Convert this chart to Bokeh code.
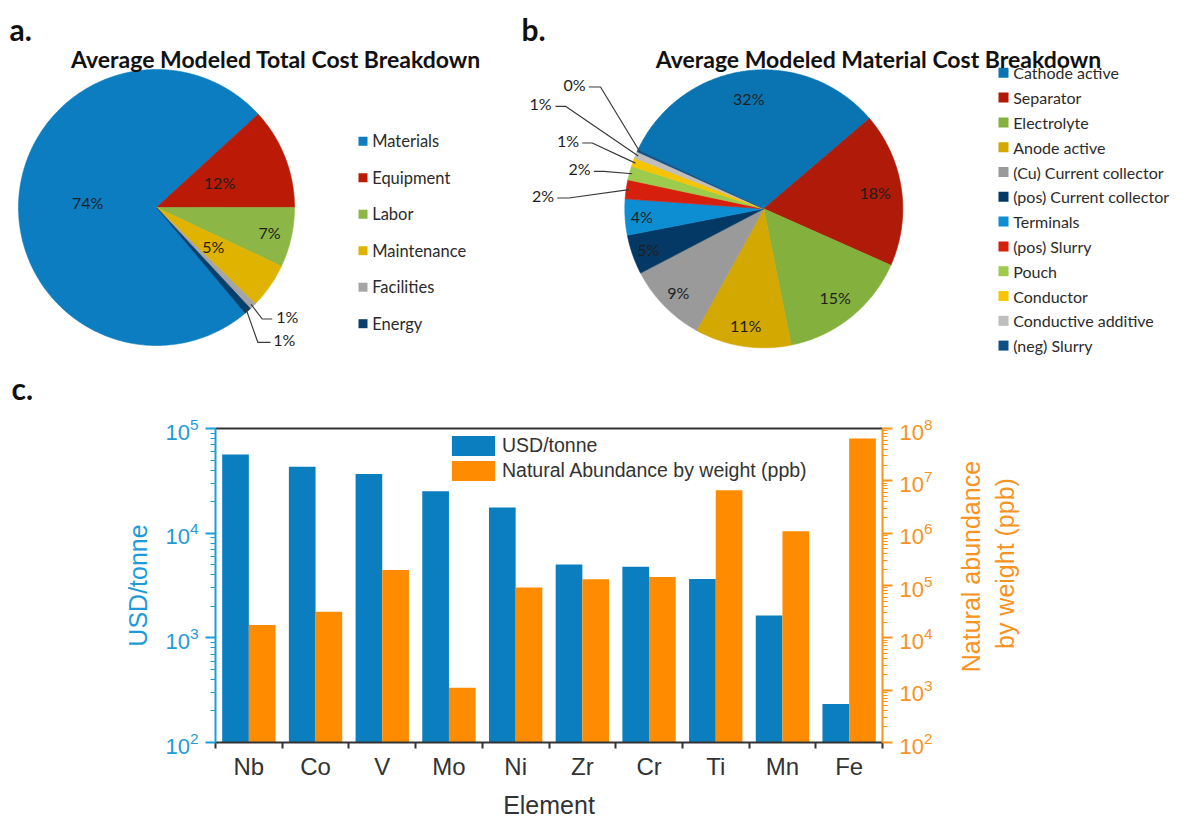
import numpy as np
from bokeh.plotting import figure
from bokeh.models import (Range1d, LogAxis, LinearAxis, FixedTicker, LogTickFormatter,
                          Legend, LegendItem, LogScale)
from bokeh.layouts import column, row
from bokeh.embed import file_html
from bokeh.resources import INLINE
from bokeh.core.properties import value

# ---------------- data ----------------
total_title = "Average Modeled Total Cost Breakdown"
total_categories = ["Materials", "Equipment", "Labor", "Maintenance", "Facilities", "Energy"]
total_shares = [74.3, 11.8, 7.0, 5.3, 0.8, 0.8]
total_colors = ["#0B7DC0", "#BA1A06", "#8CB646", "#DFB300", "#A5A5A5", "#0A3F6B"]

material_title = "Average Modeled Material Cost Breakdown"
material_categories = ["Cathode active", "Separator", "Electrolyte", "Anode active",
                       "(Cu) Current collector", "(pos) Current collector", "Terminals",
                       "(pos) Slurry", "Pouch", "Conductor", "Conductive additive", "(neg) Slurry"]
material_shares = [31.8, 17.9, 15.2, 11.2, 9.3, 4.6, 4.2, 2.2, 1.6, 1.0, 0.8, 0.2]
material_colors = ["#0A74B2", "#AF1A09", "#84B03E", "#D3A800", "#9A9A9A", "#043966",
                   "#0D8ED2", "#D6200D", "#9CCB4E", "#F7C400", "#BEBEBE", "#0E4F86"]

elements = ["Nb", "Co", "V", "Mo", "Ni", "Zr", "Cr", "Ti", "Mn", "Fe"]
usd_per_tonne = [56500, 43100, 36700, 25200, 17600, 5030, 4780, 3640, 1630, 233]
abundance_ppb = [17500, 31500, 197000, 1110, 92000, 132000, 145000, 6630000, 1090000, 64400000]

usd_ticks = [1e2, 1e3, 1e4, 1e5]
abund_ticks = [1e2, 1e3, 1e4, 1e5, 1e6, 1e7, 1e8]
right_axis_title = ["Natural abundance", "by weight (ppb)"]

# ---------------- style / layout ----------------
PIE_FONT = "Lato"
BAR_FONT = "Liberation Sans"
DARK = "#1E1E1E"
BAR_BLUE = "#0B7EBF"
BAR_ORANGE = "#FF8C00"
AX_BLUE = "#1E9BD7"
AX_ORANGE = "#F7931E"
PAGE_H = 821
TOP_H = 406
BOT_H = PAGE_H - TOP_H
W_A = 500
W_B = 690
W_TOTAL = W_A + W_B
FRAME_LEFT = 215
FRAME_W = 667
FRAME_TOP = 428 - TOP_H
FRAME_H = 314
W_C = FRAME_LEFT + FRAME_W + 70


def pie_geometry(shares, start_deg, cx, cy, r):
    total = float(sum(shares))
    xs, ys, mids = [], [], []
    a = start_deg
    for s in shares:
        span = s / total * 360.0
        n = max(4, int(span * 2) + 2)
        th = np.radians(np.linspace(a, a - span, n))
        xs.append(np.concatenate([[cx], cx + r * np.cos(th)]))
        ys.append(np.concatenate([[cy], cy - r * np.sin(th)]))
        mids.append(np.radians(a - span / 2.0))
        a -= span
    return xs, ys, mids


def pct(s):
    return f"{int(round(s))}%"


def blank_fig(width, height, x0, x1, y0, y1):
    f = figure(width=width, height=height, x_range=Range1d(x0, x1), y_range=Range1d(y1, y0),
               x_axis_location=None, y_axis_location=None, toolbar_location=None,
               output_backend="svg", min_border=0, outline_line_color=None)
    f.grid.visible = False
    f.background_fill_color = "white"
    f.border_fill_color = "white"
    return f


def draw_pie(f, shares, colors, start_deg, cx, cy, r, inside_r, outside):
    xs, ys, mids = pie_geometry(shares, start_deg, cx, cy, r)
    f.patches(xs, ys, fill_color=colors, line_color=colors, line_width=0.6)
    lx, ly, lt = [], [], []
    for i, fr in enumerate(inside_r):
        if fr is None:
            continue
        lx.append(cx + fr * r * np.cos(mids[i]))
        ly.append(cy - fr * r * np.sin(mids[i]))
        lt.append(pct(shares[i]))
    f.text(x=lx, y=ly, text=lt, text_font=value(PIE_FONT), text_font_size="16px",
           text_align="center", text_baseline="middle", text_color=DARK)
    mx, my, ox, oy, ot = [], [], [], [], []
    for i, (tx, ty, sx, ex) in outside.items():
        edge_x = cx + 0.98 * r * np.cos(mids[i])
        edge_y = cy - 0.98 * r * np.sin(mids[i])
        mx.append([sx, ex, edge_x])
        my.append([ty + 2.5, ty + 2.5, edge_y])
        ox.append(tx)
        oy.append(ty)
        ot.append(pct(shares[i]))
    f.multi_line(mx, my, line_color="#3A3A3A", line_width=1.2)
    f.text(x=ox, y=oy, text=ot, text_font=value(PIE_FONT), text_font_size="16px",
           text_align="center", text_baseline="middle", text_color=DARK)


def draw_legend(f, cats, colors, x_sq, x_txt, y0, pitch, sq, size):
    ys = [y0 + pitch * i for i in range(len(cats))]
    f.rect(x=[x_sq] * len(cats), y=ys, width=sq, height=sq, fill_color=colors, line_color=None)
    f.text(x=[x_txt] * len(cats), y=ys, text=cats, text_font=value(PIE_FONT),
           text_font_size=size, text_align="left", text_baseline="middle", text_color="#2B2B2B")


# ---------------- panel a ----------------
fa = blank_fig(W_A, TOP_H, 0, W_A, 0, TOP_H)
draw_pie(fa, total_shares, total_colors, 310.0, 156.0, 207.0, 138.0,
         [0.5, 0.49, 0.84, 0.5, None, None],
         {4: (286.7, 316.0, 271.7, 261.7), 5: (283.7, 339.3, 270.0, 257.3)})
draw_legend(fa, total_categories, total_colors, 362.5, 371.7, 140.7, 36.5, 9, "16.5px")
fa.text(x=[275.5], y=[58], text=[total_title], text_font=value(PIE_FONT),
        text_font_style="bold", text_font_size="23px", text_align="center",
        text_baseline="alphabetic", text_color="#111111")
fa.text(x=[9, 11], y=[28, 387], text=["a.", "c."], text_font=value(PIE_FONT),
        text_font_style="bold", text_font_size="30px", text_align="left",
        text_baseline="alphabetic", text_color="#111111")

# ---------------- panel b ----------------
fb = blank_fig(W_B, TOP_H, W_A, W_TOTAL, 0, TOP_H)
draw_pie(fb, material_shares, material_colors, 155.0, 763.3, 208.3, 139.0,
         [0.8, 0.81, 0.82, 0.85, 0.86, 0.88, 0.88, None, None, None, None, None],
         {7: (542.5, 195.0, 556.7, 568.3), 8: (579.0, 168.3, 593.3, 603.3),
          9: (567.5, 140.0, 581.7, 591.7), 10: (540.0, 103.3, 555.0, 565.0),
          11: (574.0, 84.0, 588.3, 600.0)})
draw_legend(fb, material_categories, material_colors, 1003.0, 1012.7, 72.3, 24.8, 10, "16px")
fb.text(x=[878.0], y=[58], text=[material_title], text_font=value(PIE_FONT),
        text_font_style="bold", text_font_size="23px", text_align="center",
        text_baseline="alphabetic", text_color="#111111")
fb.text(x=[521], y=[28], text=["b."], text_font=value(PIE_FONT),
        text_font_style="bold", text_font_size="30px", text_align="left",
        text_baseline="alphabetic", text_color="#111111")

# ---------------- panel c ----------------
fc = figure(width=W_C, height=BOT_H, x_range=Range1d(0, len(elements)),
            y_range=Range1d(usd_ticks[0], usd_ticks[-1]), y_axis_type="log",
            toolbar_location=None, output_backend="svg",
            min_border_left=FRAME_LEFT, min_border_right=W_C - FRAME_LEFT - FRAME_W,
            min_border_top=FRAME_TOP, min_border_bottom=BOT_H - FRAME_TOP - FRAME_H,
            outline_line_color=None)
fc.extra_y_ranges = {"abund": Range1d(abund_ticks[0], abund_ticks[-1])}
fc.extra_y_scales = {"abund": LogScale()}
fc.grid.visible = False
fc.background_fill_color = "white"
fc.border_fill_color = "white"

idx = np.arange(len(elements))
b1 = fc.vbar(x=idx + 0.3, top=usd_per_tonne, bottom=usd_ticks[0], width=0.4,
             fill_color=BAR_BLUE, line_color=None)
b2 = fc.vbar(x=idx + 0.7, top=abundance_ppb, bottom=abund_ticks[0], width=0.4,
             fill_color=BAR_ORANGE, line_color=None, y_range_name="abund")

xa = fc.xaxis[0]
xa.ticker = FixedTicker(ticks=[float(i) + 0.5 for i in idx],
                        minor_ticks=[float(i) for i in range(len(elements) + 1)])
xa.major_label_overrides = {float(i) + 0.5: e for i, e in enumerate(elements)}
xa.axis_line_color = "#333333"
xa.axis_line_width = 2
xa.major_tick_out = 0
xa.major_tick_in = 0
xa.major_tick_line_color = None
xa.minor_tick_out = 6
xa.minor_tick_in = 0
xa.minor_tick_line_color = "#333333"
xa.minor_tick_line_width = 2
xa.major_label_standoff = 4
xa.major_label_text_font = BAR_FONT
xa.major_label_text_font_size = "24px"
xa.major_label_text_color = "#333333"
xa.axis_label = "Element"
xa.axis_label_text_font = BAR_FONT
xa.axis_label_text_font_size = "25px"
xa.axis_label_text_font_style = "normal"
xa.axis_label_text_color = "#333333"
xa.axis_label_standoff = 8


def minor_log(ticks):
    return [m * t for t in ticks[:-1] for m in range(2, 10)]


ya = fc.yaxis[0]
ya.ticker = FixedTicker(ticks=usd_ticks, minor_ticks=minor_log(usd_ticks))
ya.formatter = LogTickFormatter()
ya.axis_label = "USD/tonne"
ya.axis_label_standoff = 10

ra = LogAxis(y_range_name="abund",
             ticker=FixedTicker(ticks=abund_ticks, minor_ticks=minor_log(abund_ticks)),
             formatter=LogTickFormatter())
fc.add_layout(ra, "right")

for ax, col in ((ya, AX_BLUE), (ra, AX_ORANGE)):
    ax.axis_line_color = col
    ax.axis_line_width = 2
    ax.major_tick_line_color = col
    ax.minor_tick_line_color = col
    ax.major_tick_line_width = 2
    ax.minor_tick_line_width = 1.2
    ax.major_tick_out = 10
    ax.major_tick_in = 0
    ax.minor_tick_out = 5
    ax.minor_tick_in = 0
    ax.major_label_standoff = 7
    ax.major_label_text_font = BAR_FONT
    ax.major_label_text_font_size = "22px"
    ax.major_label_text_color = col
    ax.axis_label_text_font = BAR_FONT
    ax.axis_label_text_font_size = "25px"
    ax.axis_label_text_font_style = "normal"
    ax.axis_label_text_color = col

ta = LinearAxis(ticker=FixedTicker(ticks=[]), axis_line_color="#333333", axis_line_width=2,
                major_tick_line_color=None, minor_tick_line_color=None,
                major_label_text_font_size="0px")
fc.add_layout(ta, "above")

legend = Legend(items=[LegendItem(label="USD/tonne", renderers=[b1]),
                       LegendItem(label="Natural Abundance by weight (ppb)", renderers=[b2])],
                location=(231, 259), glyph_width=54, glyph_height=25, spacing=0,
                padding=0, margin=0, label_standoff=2, label_height=20,
                label_text_font=BAR_FONT, label_text_font_size="19.5px",
                label_text_color="#333333", border_line_color=None,
                background_fill_alpha=0)
fc.add_layout(legend)

# right-hand axis title (two lines, reading bottom-to-top) in a side panel
fr = blank_fig(W_TOTAL - W_C, BOT_H, W_C, W_TOTAL, TOP_H, PAGE_H)
fr.text(x=[970.0, 1004.0], y=[588.5, 584.5], text=right_axis_title, angle=np.pi / 2,
        text_font=value(BAR_FONT), text_font_size="25px", text_align="center",
        text_baseline="middle", text_color=AX_ORANGE)

layout = column(row(fa, fb), row(fc, fr))
with open("out.html", "w") as fh:
    fh.write(file_html(layout, INLINE))
